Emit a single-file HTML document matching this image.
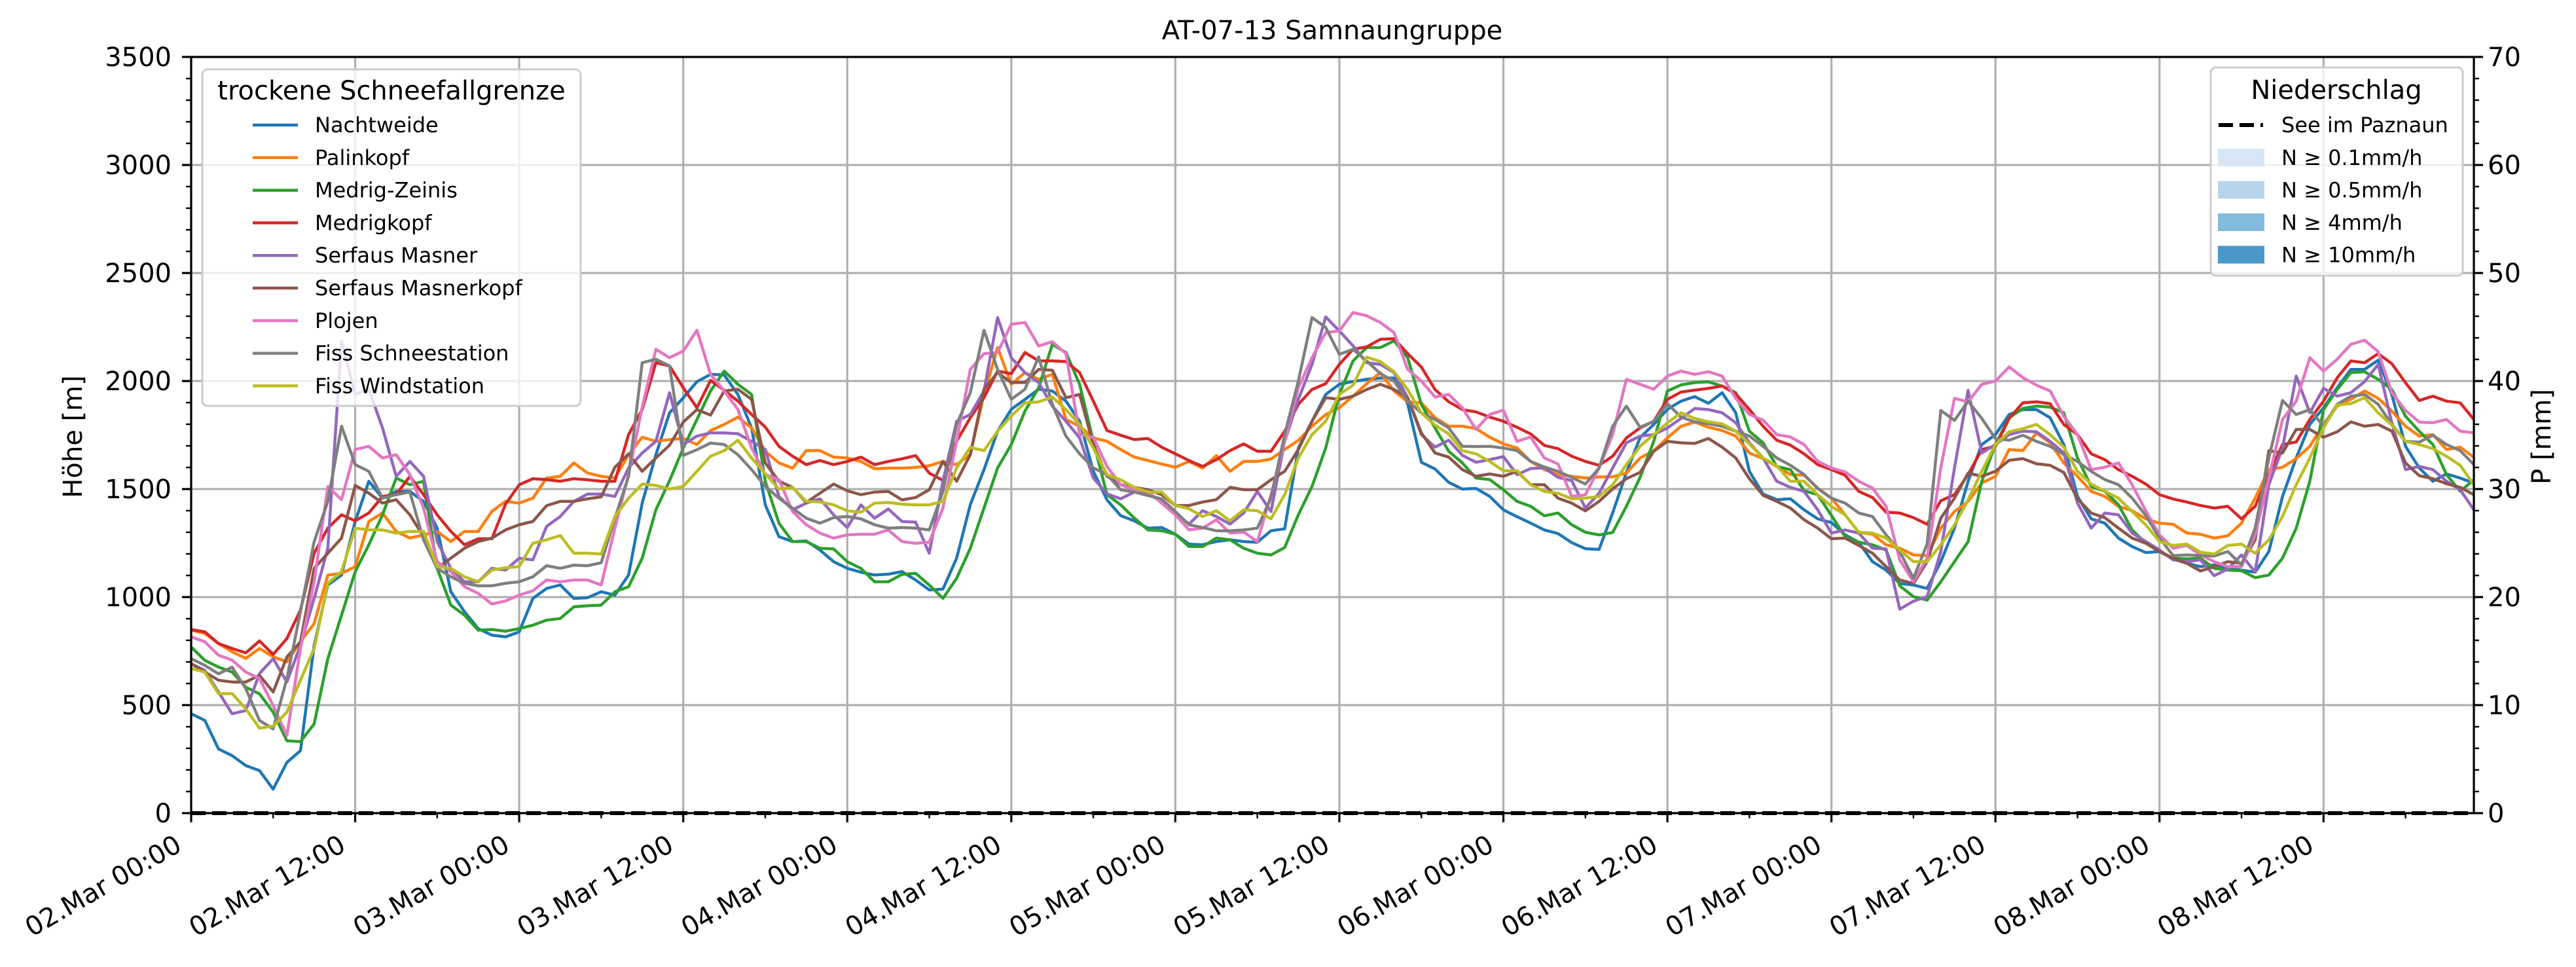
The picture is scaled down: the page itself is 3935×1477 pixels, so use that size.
<!DOCTYPE html>
<html><head><meta charset="utf-8"><title>AT-07-13 Samnaungruppe</title>
<style>
html,body{margin:0;padding:0;background:#fff;}
svg{display:block;font-family:"DejaVu Sans","Liberation Sans",sans-serif;}
</style></head>
<body>
<svg id="chart" xmlns="http://www.w3.org/2000/svg" width="3935" height="1477" viewBox="0 0 3935 1477">
<rect x="0" y="0" width="3935" height="1477" fill="#fff"/>
<text x="2035" y="60" font-size="40" text-anchor="middle" fill="#000">AT-07-13 Samnaungruppe</text>
<text transform="translate(125,667) rotate(-90)" font-size="40" text-anchor="middle" fill="#000">Höhe [m]</text>
<text transform="translate(3896,667) rotate(-90)" font-size="40" text-anchor="middle" fill="#000">P [mm]</text>
<g id="grid"></g>
<g id="series"></g>
<g id="axes"></g>
<g id="legend1"></g>
<g id="legend2"></g>
</svg>
<script>
const seriesNames = ["Nachtweide","Palinkopf","Medrig-Zeinis","Medrigkopf","Serfaus Masner","Serfaus Masnerkopf","Plojen","Fiss Schneestation","Fiss Windstation"];
const seriesColors = ["#1f77b4","#ff7f0e","#2ca02c","#d62728","#9467bd","#8c564b","#e377c2","#7f7f7f","#bcbd22"];
const xTickLabels = ["02.Mar 00:00","02.Mar 12:00","03.Mar 00:00","03.Mar 12:00","04.Mar 00:00","04.Mar 12:00","05.Mar 00:00","05.Mar 12:00","06.Mar 00:00","06.Mar 12:00","07.Mar 00:00","07.Mar 12:00","08.Mar 00:00","08.Mar 12:00"];
const yTicks = [0,500,1000,1500,2000,2500,3000,3500];
const y2Ticks = [0,10,20,30,40,50,60,70];
const precipSee = new Array(168).fill(0);
const nachtweide = [460,429,297,266,220,197,111,235,289,777,1056,1102,1350,1536,1458,1489,1489,1443,1319,1025,932,854,824,816,839,994,1040,1056,994,
997,1025,1009,1102,1435,1659,1853,1922,1997,2031,2028,1938,1783,1427,1280,1257,1260,1218,1164,1133,1115,1102,1106,1118,1079,1033,1037,1180,
1428,1590,1768,1869,1915,1962,1954,1907,1814,1582,1450,1377,1353,1319,1322,1291,1245,1242,1257,1265,1257,1254,1307,1316,1690,1814,1938,1985,
1998,2008,2014,2014,1895,1624,1593,1531,1500,1503,1466,1404,1372,1342,1311,1294,1252,1224,1221,1390,1576,1738,1799,1869,1907,1928,1897,
1946,1853,1582,1477,1451,1455,1404,1362,1345,1288,1254,1164,1125,1063,1056,1040,1164,1319,1536,1706,1752,1845,1868,1868,1830,1706,1466,1362,
1342,1273,1234,1206,1211,1177,1156,1141,1149,1133,1125,1115,1211,1466,1644,1799,1876,1969,2054,2054,2096,1938,1698,1598,1536,1570,1551,1528];
const palinkopf = [847,832,785,747,716,762,724,700,793,878,1102,1110,1141,1350,1389,1304,1273,1288,1304,1257,1304,1304,1397,1443,1435,1458,1551,1559,1621,
1574,1559,1551,1659,1740,1721,1729,1734,1706,1771,1799,1833,1783,1675,1621,1597,1678,1678,1648,1644,1628,1594,1597,1597,1600,1608,1628,1613,
1660,1938,2155,1985,2039,2008,2031,1822,1791,1737,1721,1683,1648,1632,1616,1601,1628,1597,1655,1582,1628,1628,1639,1683,1725,1791,1845,1876,
1930,1988,2039,1954,1904,1899,1830,1791,1791,1780,1740,1709,1690,1628,1590,1567,1559,1551,1556,1557,1574,1644,1678,1737,1791,1810,1786,
1771,1745,1667,1641,1605,1567,1564,1505,1458,1381,1300,1291,1242,1226,1195,1192,1319,1396,1443,1528,1559,1683,1678,1760,1714,1621,1559,1489,
1466,1420,1400,1362,1342,1337,1296,1291,1273,1284,1342,1458,1590,1601,1641,1698,1799,1884,1915,1954,1920,1861,1791,1745,1752,1683,1694,1647];
const medrigZeinis = [769,707,676,653,583,552,467,335,331,413,715,916,1118,1242,1381,1551,1520,1536,1133,963,916,847,850,842,854,870,893,901,955,
960,963,1025,1048,1180,1404,1539,1690,1822,1954,2046,1985,1938,1536,1342,1257,1257,1226,1223,1164,1133,1071,1071,1105,1110,1056,994,1087,
1226,1412,1598,1706,1861,1969,2170,2132,1985,1721,1474,1427,1366,1311,1307,1291,1234,1234,1273,1265,1226,1203,1195,1229,1381,1512,1690,1938,
2093,2155,2155,2186,2108,1892,1783,1675,1621,1551,1544,1497,1443,1420,1376,1389,1335,1300,1288,1299,1420,1554,1721,1954,1982,1993,1996,
1977,1946,1768,1714,1605,1590,1492,1474,1378,1280,1254,1242,1218,1052,1002,986,1071,1164,1257,1536,1706,1830,1873,1884,1879,1853,1644,1512,
1490,1427,1311,1249,1211,1180,1177,1180,1133,1125,1122,1090,1102,1180,1319,1536,1868,1961,2039,2043,2008,1961,1837,1768,1706,1567,1490,1543];
const medrigkopf = [850,839,785,762,742,797,735,808,940,1203,1319,1381,1353,1389,1466,1474,1559,1474,1381,1304,1242,1270,1270,1430,1520,1548,1544,1536,1548,
1543,1536,1536,1752,1868,2085,2070,1969,1876,2003,1957,1907,1845,1787,1698,1652,1613,1632,1613,1628,1648,1613,1628,1640,1655,1574,1540,1721,
1830,1923,2046,2034,2132,2093,2093,2090,2039,1907,1771,1749,1729,1734,1694,1663,1632,1605,1636,1678,1709,1675,1675,1768,1892,1961,1988,2077,
2147,2158,2193,2196,2127,2065,1961,1904,1868,1857,1833,1814,1786,1755,1702,1687,1652,1628,1610,1652,1737,1783,1814,1915,1949,1958,1966,
1977,1941,1868,1791,1726,1703,1663,1613,1590,1564,1489,1461,1393,1389,1368,1337,1446,1474,1567,1683,1698,1827,1899,1904,1895,1799,1752,1663,
1636,1590,1559,1523,1474,1454,1440,1424,1412,1420,1362,1420,1567,1706,1718,1822,1907,2015,2093,2085,2127,2080,1992,1910,1930,1907,1899,1822];
const serfausMasner = [692,661,561,460,475,646,715,607,777,994,1226,2186,1938,1962,1783,1559,1628,1559,1257,1133,1071,1071,1133,1125,1180,1172,1327,1373,1443,
1477,1477,1466,1598,1667,1721,1946,1706,1745,1760,1760,1756,1721,1683,1466,1404,1435,1455,1381,1322,1427,1365,1408,1350,1347,1203,1536,1814,
1845,1954,2294,2108,2039,1993,1884,1814,1737,1551,1478,1455,1486,1477,1443,1389,1338,1400,1373,1338,1389,1489,1396,1721,1915,2077,2297,2232,
2163,2085,2077,2039,1923,1752,1694,1726,1656,1624,1636,1650,1567,1595,1598,1554,1539,1412,1481,1598,1714,1745,1752,1783,1827,1873,1868,
1853,1807,1714,1644,1536,1508,1489,1404,1296,1311,1296,1226,1223,944,981,1002,1211,1598,1957,1667,1706,1752,1768,1765,1721,1667,1435,1319,
1389,1381,1296,1257,1218,1172,1164,1172,1099,1130,1195,1115,1521,1690,2023,1853,1966,1930,1946,1997,2077,1806,1590,1605,1590,1536,1497,1404];
const serfausMasnerkopf = [692,653,615,607,607,638,561,723,793,1133,1203,1273,1517,1481,1435,1451,1381,1280,1133,1180,1226,1257,1273,1311,1335,1350,1423,1443,1443,
1455,1464,1601,1663,1582,1644,1703,1810,1868,1842,1954,1962,1915,1621,1536,1508,1438,1481,1523,1492,1474,1486,1489,1450,1461,1497,1628,1536,
1659,1962,2039,1993,1993,2054,2050,1923,1938,1706,1559,1520,1508,1497,1474,1424,1424,1440,1451,1508,1497,1497,1543,1582,1683,1814,1923,1915,
1930,1961,1985,1961,1923,1760,1667,1648,1590,1559,1570,1559,1582,1520,1520,1458,1435,1399,1443,1501,1548,1577,1675,1721,1714,1711,1734,
1694,1644,1548,1471,1443,1412,1358,1319,1270,1273,1239,1203,1141,1079,1063,1164,1365,1458,1574,1559,1582,1633,1641,1617,1610,1577,1455,1389,
1368,1319,1273,1249,1211,1180,1156,1121,1141,1164,1156,1265,1678,1667,1776,1776,1740,1765,1811,1791,1799,1768,1621,1562,1548,1525,1508,1474];
const plojen = [816,793,731,708,653,623,498,359,762,1071,1512,1451,1683,1698,1644,1659,1567,1412,1164,1118,1048,1017,968,982,1009,1029,1079,1071,1079,
1079,1056,1319,1567,1878,2147,2108,2139,2235,2031,1954,1868,1691,1567,1544,1396,1335,1296,1273,1288,1291,1291,1311,1257,1249,1254,1412,1721,
2054,2127,2132,2263,2271,2162,2182,2127,1752,1740,1605,1520,1497,1489,1435,1381,1311,1319,1358,1296,1301,1257,1474,1721,1969,2108,2224,2232,
2317,2302,2271,2224,2054,2000,1926,1938,1876,1776,1845,1865,1721,1741,1644,1616,1466,1474,1598,1752,2008,1985,1962,2023,2046,2031,2043,
2023,1920,1845,1819,1752,1741,1706,1628,1598,1579,1536,1505,1420,1172,1071,1180,1598,1920,1904,1985,2000,2065,2016,1981,1954,1837,1752,1590,
1601,1621,1520,1399,1288,1226,1239,1195,1164,1141,1141,1288,1551,1822,1907,2108,2046,2101,2170,2189,2136,1946,1864,1810,1807,1822,1768,1760];
const fissSchneestation = [715,684,645,676,576,429,390,622,932,1257,1443,1791,1613,1582,1458,1474,1486,1265,1133,1094,1064,1052,1052,1064,1071,1094,1145,1133,1148,
1145,1159,1365,1559,2085,2101,2070,1656,1682,1713,1706,1659,1590,1513,1458,1411,1365,1342,1368,1373,1362,1335,1319,1322,1319,1311,1489,1799,
1946,2235,2054,1915,1962,2112,1892,1745,1663,1598,1567,1497,1486,1470,1455,1396,1335,1322,1307,1307,1311,1319,1458,1752,2000,2294,2248,2124,
2147,2093,2034,2000,1907,1853,1822,1783,1698,1697,1698,1690,1678,1628,1602,1582,1554,1523,1598,1791,1884,1786,1814,1895,1833,1811,1802,
1791,1768,1745,1698,1644,1610,1567,1502,1458,1435,1389,1373,1288,1211,1087,1246,1864,1818,1907,1827,1734,1726,1749,1721,1698,1659,1628,1582,
1544,1520,1458,1378,1273,1192,1195,1192,1190,1211,1149,1319,1644,1910,1845,1868,1791,1892,1930,1938,1892,1799,1721,1717,1749,1706,1678,1613];
const fissWindstation = [669,653,553,553,483,393,403,467,615,762,1064,1118,1319,1311,1311,1296,1304,1304,1141,1133,1094,1071,1125,1136,1141,1249,1265,1285,1203,
1203,1199,1373,1458,1523,1517,1500,1512,1582,1652,1678,1726,1644,1570,1500,1508,1443,1440,1427,1399,1393,1435,1438,1430,1427,1427,1443,1598,
1693,1678,1768,1838,1899,1904,1926,1868,1799,1690,1567,1543,1508,1486,1486,1424,1409,1373,1400,1353,1404,1400,1362,1474,1644,1752,1814,1938,
1981,2111,2090,2043,1961,1853,1796,1755,1678,1663,1628,1585,1585,1520,1489,1481,1455,1458,1466,1520,1613,1698,1752,1806,1853,1827,1811,
1802,1768,1709,1644,1608,1536,1536,1474,1420,1381,1300,1296,1273,1218,1164,1164,1242,1334,1450,1582,1706,1765,1779,1799,1752,1694,1582,1523,
1490,1458,1396,1334,1257,1239,1245,1208,1199,1239,1245,1203,1265,1373,1520,1644,1783,1889,1895,1923,1853,1796,1721,1706,1687,1652,1610,1520];
const seriesValues = [nachtweide,palinkopf,medrigZeinis,medrigkopf,serfausMasner,serfausMasnerkopf,plojen,fissSchneestation,fissWindstation];

const NS = "http://www.w3.org/2000/svg";
const L = 292, R = 3779, T = 87, B = 1242;
const H_MAX = 167;
function xs(h){ return L + (R - L) * h / H_MAX; }
function ys(v){ return B - (B - T) * v / 3500; }
function ys2(p){ return B - (B - T) * p / 70; }
function mk(tag, attrs, parent){
  const e = document.createElementNS(NS, tag);
  for (const k in attrs) e.setAttribute(k, attrs[k]);
  parent.appendChild(e);
  return e;
}
const grid = document.getElementById("grid");
const axes = document.getElementById("axes");
const sg = document.getElementById("series");

// grid
for (let i = 0; i < xTickLabels.length; i++) {
  const x = xs(i * 12);
  const g = mk("line", {x1:x, x2:x, y1:T, y2:B, stroke:"#b0b0b0", "stroke-width":3.2}, grid);
  
  
}
for (const v of yTicks) {
  const y = ys(v);
  const g = mk("line", {x1:L, x2:R, y1:y, y2:y, stroke:"#b0b0b0", "stroke-width":3.2}, grid);
  
  
}

// precipitation dashed line
{
  const pts = precipSee.map((p, i) => xs(i).toFixed(1) + "," + ys2(p).toFixed(1)).join(" ");
  const pl = mk("polyline", {points:pts, fill:"none", stroke:"#000", "stroke-width":6, "stroke-dasharray":"22,10"}, sg);
  
  
}

// series
seriesValues.forEach((arr, si) => {
  const pts = arr.map((v, i) => xs(i).toFixed(1) + "," + ys(v).toFixed(1)).join(" ");
  const pl = mk("polyline", {points:pts, fill:"none", stroke:seriesColors[si], "stroke-width":4.5, "stroke-linejoin":"round"}, sg);
  
  
});

// spines
{
  const sp = mk("rect", {x:L, y:T, width:R-L, height:B-T, fill:"none", stroke:"#000", "stroke-width":3.2}, axes);
  
  
}
// x ticks
for (let h = 0; h <= H_MAX; h += 6) {
  const major = h % 12 === 0;
  const x = xs(h);
  const t = mk("line", {x1:x, x2:x, y1:B, y2:B + (major ? 14 : 8), stroke:"#000", "stroke-width":major ? 3.2 : 2.4}, axes);
  
  
}
xTickLabels.forEach((lab, i) => {
  const x = xs(i * 12) - 12;
  const y = 1298;
  const t = mk("text", {transform:"translate(" + x + "," + y + ") rotate(-30)", "font-size":40, "text-anchor":"end", fill:"#000"}, axes);
  t.textContent = lab;
  
  
});
// left y ticks
for (let v = 0; v <= 3500; v += 100) {
  const major = v % 500 === 0;
  const y = ys(v);
  const t = mk("line", {x1:L - (major ? 14 : 8), x2:L, y1:y, y2:y, stroke:"#000", "stroke-width":major ? 3.2 : 2.4}, axes);
  
  
}
yTicks.forEach(v => {
  const t = mk("text", {x:262, y:ys(v) + 14, "font-size":40, "text-anchor":"end", fill:"#000"}, axes);
  t.textContent = String(v);
  
  
});
// right y ticks
for (let p = 0; p <= 70; p += 2) {
  const major = p % 10 === 0;
  const y = ys2(p);
  const t = mk("line", {x1:R, x2:R + (major ? 14 : 8), y1:y, y2:y, stroke:"#000", "stroke-width":major ? 3.2 : 2.4}, axes);
  
  
}
y2Ticks.forEach(p => {
  const t = mk("text", {x:3800, y:ys2(p) + 14, "font-size":40, "text-anchor":"start", fill:"#000"}, axes);
  t.textContent = String(p);
  
  
});

// legend 1
{
  const lg = document.getElementById("legend1");
  const box = mk("rect", {x:309, y:106, width:578, height:514, rx:8, fill:"#fff", "fill-opacity":0.8, stroke:"#cccccc", "stroke-width":3}, lg);
  
  
  const tt = mk("text", {x:598, y:152, "font-size":40, "text-anchor":"middle", fill:"#000"}, lg);
  tt.textContent = "trockene Schneefallgrenze";
  
  
  seriesNames.forEach((n, i) => {
    const y = 191 + i * 49.8;
    const ln = mk("line", {x1:386, x2:455, y1:y, y2:y, stroke:seriesColors[i], "stroke-width":4.5}, lg);
    
    
    const tx = mk("text", {x:481, y:y + 11, "font-size":32, fill:"#000"}, lg);
    tx.textContent = n;
    
    
  });
}
// legend 2
{
  const lg = document.getElementById("legend2");
  const box = mk("rect", {x:3377, y:103, width:385, height:318, rx:8, fill:"#fff", "fill-opacity":0.8, stroke:"#cccccc", "stroke-width":3}, lg);
  
  
  const tt = mk("text", {x:3569, y:151, "font-size":40, "text-anchor":"middle", fill:"#000"}, lg);
  tt.textContent = "Niederschlag";
  
  
  const dl = mk("line", {x1:3389, x2:3457, y1:191, y2:191, stroke:"#000", "stroke-width":6, "stroke-dasharray":"22,10"}, lg);
  
  
  const t0 = mk("text", {x:3485, y:202, "font-size":32, fill:"#000"}, lg);
  t0.textContent = "See im Paznaun";
  
  
  const pLabels = ["N ≥ 0.1mm/h","N ≥ 0.5mm/h","N ≥ 4mm/h","N ≥ 10mm/h"];
  const pColors = ["#d6e6f4","#b7d4ea","#82bbdb","#4a98c9"];
  pLabels.forEach((lab, i) => {
    const y = 240 + i * 49.5;
    const r = mk("rect", {x:3388, y:y - 13, width:71, height:27, fill:pColors[i]}, lg);
    
    
    const tx = mk("text", {x:3485, y:y + 12, "font-size":32, fill:"#000"}, lg);
    tx.textContent = lab;
    
    
  });
}
</script>
</body></html>
